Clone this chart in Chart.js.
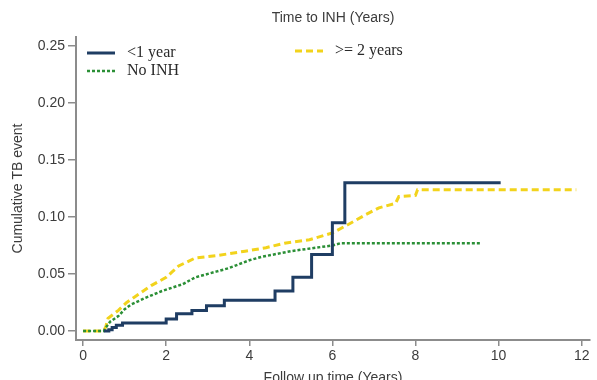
<!DOCTYPE html>
<html>
<head>
<meta charset="utf-8">
<script src="https://cdn.jsdelivr.net/npm/chart.js@4/dist/chart.umd.min.js"></script>
<style>
  html, body { margin: 0; padding: 0; background: #fff; overflow: hidden; }
</style>
</head>
<body>
<canvas id="myChart" width="597" height="392"></canvas>
<script>
// cumulative TB event by time to INH start (Kaplan-Meier style curves)
const lessThan1X = [0.5, 0.55, 0.62, 0.7, 0.8, 0.95, 2.0, 2.25, 2.62, 2.97, 3.4, 4.62, 5.05, 5.5, 6.0, 6.3, 10.05];
const lessThan1Y = [0, 0, 0.001, 0.003, 0.005, 0.007, 0.0105, 0.015, 0.018, 0.022, 0.027, 0.035, 0.047, 0.067, 0.095, 0.13, 0.13];

const noInhX = [0, 0.5, 0.55, 0.65, 0.85, 1.0, 1.15, 1.5, 1.9, 2.4, 2.7, 3.2, 3.5, 4.0, 4.3, 5.0, 5.5, 6.0, 6.2, 9.56];
const noInhY = [0, 0, 0.003, 0.008, 0.013, 0.019, 0.023, 0.029, 0.035, 0.041, 0.047, 0.052, 0.055, 0.062, 0.065, 0.07, 0.0725, 0.075, 0.077, 0.077];

const over2X = [0, 0.5, 0.55, 0.6, 0.85, 1.05, 1.25, 1.65, 2.0, 2.15, 2.3, 2.7, 3.2, 3.9, 4.4, 4.85, 5.45, 6.0, 6.36, 6.8, 7.12, 7.52, 7.6, 8.0, 8.05, 11.87];
const over2Y = [0, 0, 0.004, 0.011, 0.018, 0.025, 0.03, 0.04, 0.047, 0.052, 0.057, 0.064, 0.066, 0.07, 0.073, 0.077, 0.08, 0.086, 0.093, 0.102, 0.108, 0.112, 0.118, 0.119, 0.124, 0.124];

const xTicks = [0, 2, 4, 6, 8, 10, 12];
const yTicks = [0, 0.05, 0.1, 0.15, 0.2, 0.25];

const colorNavy = '#1f3d63';
const colorGold = '#f2d31c';
const colorGreen = '#2b8f36';
const axisGray = '#8c8c8c';
const textGray = '#3c3c3c';

const toPoints = (xs, ys) => xs.map((x, i) => ({ x: x, y: ys[i] }));

// legend sits inside the plot, laid out by hand
const legendItems = [
  { index: 0, x: 87, y: 53 },
  { index: 1, x: 87, y: 71 },
  { index: 2, x: 295, y: 51 },
];

const headerPlugin = {
  id: 'header',
  afterDraw(chart) {
    const c = chart.ctx;
    const area = chart.chartArea;
    c.save();
    c.fillStyle = textGray;
    c.font = '14px "Liberation Sans", Arial, sans-serif';
    c.textAlign = 'center';
    c.textBaseline = 'middle';
    c.fillText('Time to INH (Years)', (area.left + area.right) / 2, 18);

    c.font = '16px "Liberation Serif", "Times New Roman", serif';
    c.textAlign = 'left';
    legendItems.forEach((item) => {
      const ds = chart.data.datasets[item.index];
      c.strokeStyle = ds.borderColor;
      c.lineWidth = ds.borderWidth;
      c.setLineDash(ds.borderDash || []);
      c.beginPath();
      c.moveTo(item.x, item.y);
      c.lineTo(item.x + 28, item.y);
      c.stroke();
      c.setLineDash([]);
      c.fillStyle = '#2a2a2a';
      c.fillText(ds.label, item.x + 40, item.y);
    });
    c.restore();
  },
};

const config = {
  type: 'line',
  data: {
    datasets: [
      {
        label: '<1 year',
        data: toPoints(lessThan1X, lessThan1Y),
        borderColor: colorNavy,
        borderWidth: 3,
        stepped: 'before',
      },
      {
        label: 'No INH',
        data: toPoints(noInhX, noInhY),
        borderColor: colorGreen,
        borderWidth: 2.5,
        borderDash: [3, 2],
      },
      {
        label: '>= 2 years',
        data: toPoints(over2X, over2Y),
        borderColor: colorGold,
        borderWidth: 3,
        borderDash: [7, 4],
      },
    ],
  },
  options: {
    responsive: false,
    animation: false,
    layout: { padding: { top: 37, right: 7, left: 0, bottom: 0 } },
    elements: { point: { radius: 0 }, line: { tension: 0 } },
    scales: {
      x: {
        type: 'linear',
        min: -0.17,
        max: 12.2,
        afterBuildTicks: (scale) => {
          scale.ticks = xTicks.map((v) => ({ value: v }));
        },
        afterFit: (scale) => {
          scale.height = 52;
        },
        grid: { drawOnChartArea: false, tickLength: 6, color: axisGray, lineWidth: 1.5 },
        border: { color: axisGray, width: 2 },
        ticks: { color: textGray, padding: 2, maxRotation: 0, font: { size: 14, family: '"Liberation Sans", Arial' } },
        title: {
          display: true,
          text: 'Follow up time (Years)',
          color: textGray,
          font: { size: 14, family: '"Liberation Sans", Arial' },
          padding: { top: 0, bottom: 5 },
        },
      },
      y: {
        min: -0.008,
        max: 0.258,
        afterBuildTicks: (scale) => {
          scale.ticks = yTicks.map((v) => ({ value: v }));
        },
        afterFit: (scale) => {
          scale.width = 76;
        },
        grid: { drawOnChartArea: false, tickLength: 8, color: axisGray, lineWidth: 1.5 },
        border: { color: axisGray, width: 2 },
        ticks: {
          color: textGray,
          padding: 3,
          font: { size: 14, family: '"Liberation Sans", Arial' },
          callback: (v) => v.toFixed(2),
        },
        title: {
          display: true,
          text: 'Cumulative TB event',
          color: textGray,
          font: { size: 14, family: '"Liberation Sans", Arial' },
          padding: { top: 10, bottom: 0 },
        },
      },
    },
    plugins: {
      legend: { display: false },
      tooltip: { enabled: false },
    },
  },
  plugins: [headerPlugin],
};

new Chart(document.getElementById('myChart'), config);
</script>
</body>
</html>
